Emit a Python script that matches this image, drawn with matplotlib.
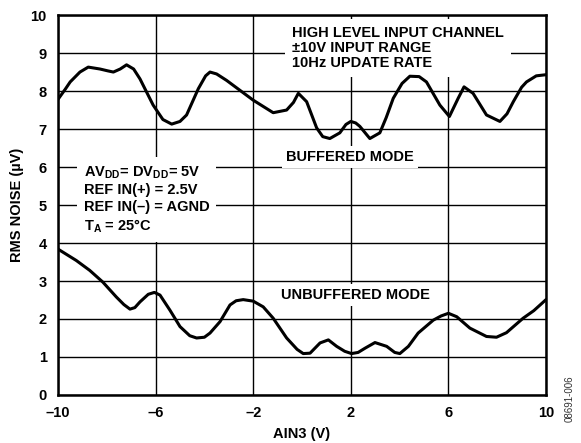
import matplotlib
matplotlib.use("Agg")
import matplotlib.pyplot as plt

plt.rcParams['font.family'] = ['Liberation Sans', 'DejaVu Sans']
plt.rcParams['font.weight'] = 'bold'
plt.rcParams['mathtext.fontset'] = 'custom'
plt.rcParams['mathtext.rm'] = 'Liberation Sans:bold'
plt.rcParams['mathtext.bf'] = 'Liberation Sans:bold'

# buffered mode curve
buf_x = [-10.0, -9.7, -9.5, -9.1, -8.76, -8.28, -7.95, -7.73, -7.45, -7.19, -6.9, -6.64, -6.10,
         -5.7, -5.34, -5.0, -4.73, -4.25, -3.95, -3.77, -3.5, -3.09, -2.0, -1.18, -0.63, -0.35,
         -0.15, 0.19, 0.60, 0.85, 1.14, 1.55, 1.8, 2.0, 2.2, 2.37, 2.78, 3.19, 3.45,
         3.74, 4.1, 4.42, 4.8, 5.10, 5.65, 6.04, 6.40, 6.64, 7.01, 7.56, 8.11, 8.4, 8.66,
         9.0, 9.20, 9.6, 10.0]
buf_y = [7.78, 8.05, 8.24, 8.50, 8.63, 8.58, 8.53, 8.50, 8.58, 8.69, 8.58, 8.32, 7.63,
         7.25, 7.13, 7.20, 7.37, 8.06, 8.40, 8.50, 8.45, 8.28, 7.76, 7.43, 7.50, 7.70,
         7.94, 7.72, 7.03, 6.80, 6.75, 6.90, 7.12, 7.20, 7.16, 7.07, 6.75, 6.90, 7.30,
         7.81, 8.20, 8.39, 8.38, 8.24, 7.63, 7.33, 7.81, 8.11, 7.94, 7.37, 7.20, 7.40, 7.72,
         8.10, 8.24, 8.40, 8.43]

# unbuffered mode curve
unb_x = [-10.0, -9.25, -8.7, -8.16, -7.61, -7.3, -7.05, -6.85, -6.64, -6.3, -6.05, -5.82,
         -5.41, -5.0, -4.6, -4.32, -4.0, -3.77, -3.36, -2.95, -2.7, -2.41, -2.0, -1.59,
         -1.18, -0.63, -0.2, 0.05, 0.33, 0.74, 1.08, 1.42, 1.75, 2.03, 2.3, 2.58, 2.99,
         3.47, 3.8, 4.01, 4.36, 4.76, 5.38, 5.7, 6.0, 6.34, 6.88, 7.56, 7.97, 8.38, 9.06,
         9.5, 10.0]
unb_y = [3.84, 3.54, 3.28, 2.97, 2.58, 2.38, 2.26, 2.30, 2.45, 2.65, 2.70, 2.63,
         2.23, 1.80, 1.56, 1.50, 1.52, 1.63, 1.93, 2.37, 2.48, 2.51, 2.47, 2.32,
         2.02, 1.50, 1.20, 1.09, 1.10, 1.37, 1.45, 1.28, 1.15, 1.09, 1.12, 1.23, 1.38,
         1.28, 1.12, 1.09, 1.28, 1.63, 1.97, 2.08, 2.15, 2.06, 1.76, 1.54, 1.52, 1.64, 2.02,
         2.22, 2.51]

x_ticks = [-10, -6, -2, 2, 6, 10]
x_tick_labels = ['\u201310', '\u20136', '\u20132', '2', '6', '10']
y_ticks = list(range(0, 11))

fig = plt.figure(figsize=(5.81, 4.43), dpi=100)
ax = fig.add_axes([0.0998, 0.1084, 0.84, 0.8576])

ax.set_xlim(-10, 10)
ax.set_ylim(0, 10)
ax.set_xticks(x_ticks)
ax.set_xticklabels(x_tick_labels)
ax.set_yticks(y_ticks)
ax.tick_params(length=0, labelsize=10.5)
ax.tick_params(axis='x', pad=8)
ax.tick_params(axis='y', pad=8)
for lab in ax.get_xticklabels() + ax.get_yticklabels():
    lab.set_fontweight('bold')
ax.grid(True, color='black', linewidth=1.0)
ax.set_axisbelow(True)
for s in ax.spines.values():
    s.set_linewidth(1.8)

ax.plot(buf_x, buf_y, color='black', linewidth=2.2, solid_joinstyle='round',
        solid_capstyle='round', zorder=3)
ax.plot(unb_x, unb_y, color='black', linewidth=2.2, solid_joinstyle='round',
        solid_capstyle='round', zorder=3)

box = dict(facecolor='white', edgecolor='none', pad=3)
ax.text(-0.41, 9.72, 'HIGH LEVEL INPUT CHANNEL\n\u00b110V INPUT RANGE\n10Hz UPDATE RATE',
        fontsize=10.5, fontweight='bold', ha='left', va='top', linespacing=1.1,
        bbox=dict(facecolor='white', edgecolor='none', pad=5), zorder=2)
ax.text(1.97, 6.27, 'BUFFERED MODE', fontsize=10.5, fontweight='bold', ha='center', va='center',
        bbox=box, zorder=2)
ax.text(2.2, 2.63, 'UNBUFFERED MODE', fontsize=10.5, fontweight='bold', ha='center', va='center',
        bbox=box, zorder=2)
ax.text(-8.95, 6.08,
        'AV$_{\\rm DD}$= DV$_{\\rm DD}$= 5V\nREF IN(+) = 2.5V\nREF IN(\u2013) = AGND\nT$_{\\rm A}$ = 25\u00b0C',
        fontsize=10.5, fontweight='bold', ha='left', va='top', linespacing=1.25,
        bbox=dict(facecolor='white', edgecolor='none', pad=5), zorder=2)

ax.set_xlabel('AIN3 (V)', fontsize=10.5, fontweight='bold', labelpad=5)
ax.set_ylabel('RMS NOISE (\u00b5V)', fontsize=10.5, fontweight='bold')
ax.yaxis.set_label_coords(-0.07, 0.5)

fig.text(0.981, 0.10, '08691-006', rotation=90, fontsize=7, fontweight='normal',
         color='#333333', ha='center', va='center')

fig.savefig('out.png', dpi=100)
